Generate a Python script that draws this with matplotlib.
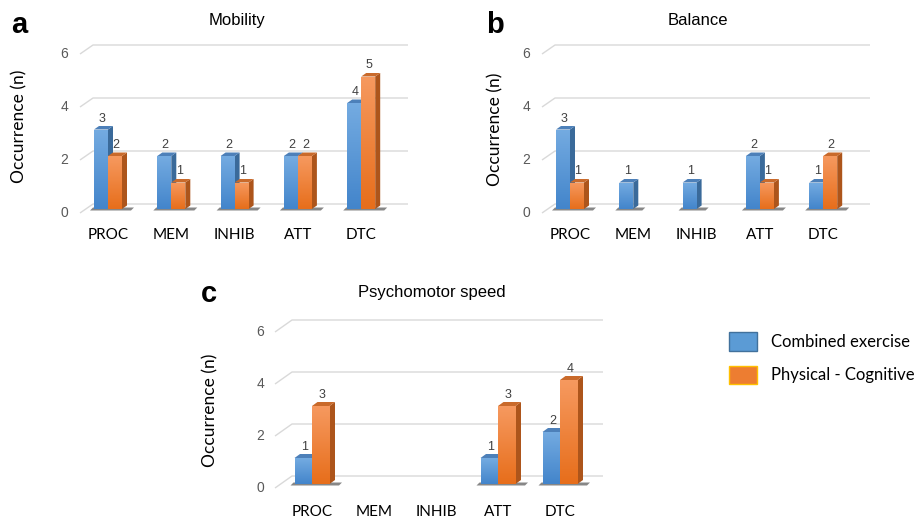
import numpy as np
import matplotlib
matplotlib.use('Agg')
import matplotlib.pyplot as plt
from matplotlib.patches import Polygon, Rectangle
from matplotlib.colors import LinearSegmentedColormap

# ---------------- data ----------------
categories = ['PROC', 'MEM', 'INHIB', 'ATT', 'DTC']
y_ticks = [0, 2, 4, 6]
series_names = ['Combined exercise', 'Physical - Cognitive']
mobility_combined = [3, 2, 2, 2, 4]
mobility_physcog = [2, 1, 1, 2, 5]
balance_combined = [3, 1, 1, 2, 1]
balance_physcog = [1, 0, 0, 1, 2]
psycho_combined = [1, 0, 0, 1, 2]
psycho_physcog = [3, 0, 0, 3, 4]
titles = ['Mobility', 'Balance', 'Psychomotor speed']
panel_letters = ['a', 'b', 'c']
y_label = 'Occurrence (n)'

W, H = 921, 522
fig = plt.figure(figsize=(W / 100, H / 100), dpi=100)
fig.patch.set_facecolor('white')

SANS = ['Liberation Sans', 'DejaVu Sans']
CAL = ['Lato', 'DejaVu Sans']

STYLES = [
    dict(top='#74abe1', bot='#4385cb', side='#3a6a9a', cap='#4d80b9'),
    dict(top='#f6995f', bot='#e76e1b', side='#ad551b', cap='#c96a2b'),
]


def px2fig(x, y):
    return x / W, 1 - y / H


def draw_panel(g, s1, s2, title, letter):
    left, top, right, bottom = g['box']
    ax = fig.add_axes([left / W, 1 - bottom / H, (right - left) / W, (bottom - top) / H])
    sp, un, base, cx0 = g['spacing'], g['unit'], g['base'], g['cx0']
    xlim = ((left - cx0) / sp, (right - cx0) / sp)
    ylim = ((base - bottom) / un, (base - top) / un)
    ax.axis('off')
    ux = lambda p: p / sp   # pixel -> data x
    uy = lambda p: p / un   # pixel -> data y (up)

    # gridlines (3D back wall)
    xf, xb, xr = [(v - cx0) / sp for v in (g['gfx'], g['gbx'], g['grx'])]
    for t in y_ticks:
        yf = t - uy(g['gf'])
        yb = t + uy(g['gb'])
        ax.plot([xf, xb, xr], [yf, yb, yb], color='#d9d9d9', lw=1.0, zorder=1,
                solid_capstyle='butt')
        ax.text(ux(g['tickx'] - cx0), yf, str(t), ha='right', va='center',
                fontsize=10, color='#595959', family=SANS)

    bw = ux(g['bw'])
    dx, dy = ux(g['depth'][0]), uy(g['depth'][1])
    x = np.arange(len(categories))

    def add_shadow(sx0, sx1):
        shadow = Polygon([(sx0, -uy(1.5)), (sx1 - ux(3), -uy(1.5)),
                          (sx1, uy(1.5)), (sx0 + ux(3), uy(1.5))],
                         closed=True, facecolor='#555555', edgecolor='none',
                         alpha=0.7, zorder=2)
        ax.add_patch(shadow)

    # floor shadows under each group
    for xi in x:
        has1, has2 = s1[xi] > 0, s2[xi] > 0
        if not (has1 or has2):
            continue
        gx0 = xi - bw if has1 else xi
        gx1 = (xi + bw if has2 else xi) + dx
        add_shadow(gx0 - ux(4), gx1 + ux(7))

    for si, vals in enumerate((s1, s2)):
        st = STYLES[si]
        cmap = LinearSegmentedColormap.from_list('g', [st['top'], st['bot']])
        for xi, v in zip(x, vals):
            if v <= 0:
                continue
            x0 = xi - bw + si * bw
            x1 = x0 + bw
            z = 3 + si
            side = Polygon([(x1, 0), (x1 + dx, dy), (x1 + dx, v + dy), (x1, v)],
                           closed=True, facecolor=st['side'], edgecolor='none', zorder=z)
            capf = Polygon([(x0, v), (x0 + dx, v + dy), (x1 + dx, v + dy), (x1, v)],
                           closed=True, facecolor=st['cap'], edgecolor='none', zorder=z)
            ax.add_patch(side)
            ax.add_patch(capf)
            bars = ax.bar([x0], [v], width=bw, align='edge', color=st['bot'],
                          edgecolor='none', zorder=z)
            rect = bars.patches[0]
            grad = np.linspace(0, 1, 64).reshape(-1, 1)
            im = ax.imshow(grad, cmap=cmap, extent=[x0, x1, 0, v], origin='upper',
                           aspect='auto', zorder=z + 0.1, interpolation='bilinear')
            im.set_clip_path(rect)
            ax.text((x0 + x1) / 2 + dx * 0.2, v + dy + uy(1.5), str(v), ha='center',
                    va='bottom', fontsize=9, color='#404040', family=SANS, zorder=6)

    for xi, c in zip(x, categories):
        ax.text(xi, (base - g['xly']) / un, c, ha='center', va='center',
                fontsize=11, color='black', family=CAL)

    ax.set_xlim(xlim)
    ax.set_ylim(ylim)

    # titles, panel letters, y labels in figure pixel coordinates
    fig.text(*px2fig(*g['title']), title, ha='center', va='baseline',
             fontsize=12, family=SANS)
    fig.text(*px2fig(*g['letter']), letter, ha='left', va='baseline',
             fontsize=21, fontweight='bold', family=SANS)
    fig.text(*px2fig(*g['ylab']), y_label, ha='center', va='center', rotation=90,
             fontsize=12.5, family=CAL)


geoms = [
    dict(box=(60, 30, 430, 250), cx0=108, spacing=63.3, base=209, unit=26.5, bw=14,
         depth=(5, 3.5), gfx=80, gbx=93, grx=408, gf=4, gb=5, tickx=68, xly=235,
         title=(237, 25), letter=(11, 33), ylab=(19, 126)),
    dict(box=(522, 30, 892, 250), cx0=570, spacing=63.3, base=209, unit=26.5, bw=14,
         depth=(5, 3.5), gfx=542, gbx=555, grx=870, gf=4, gb=5, tickx=530, xly=235,
         title=(698, 25), letter=(486, 33), ylab=(495, 129)),
    dict(box=(240, 300, 630, 522), cx0=312, spacing=62, base=484, unit=26, bw=17.5,
         depth=(5.5, 4), gfx=275, gbx=292, grx=603, gf=4, gb=8, tickx=264, xly=512,
         title=(432, 297), letter=(201, 302), ylab=(210, 410)),
]
series = [(mobility_combined, mobility_physcog), (balance_combined, balance_physcog),
          (psycho_combined, psycho_physcog)]

for g, (s1, s2), t, l in zip(geoms, series, titles, panel_letters):
    draw_panel(g, s1, s2, t, l)

# legend
leg_ax = fig.add_axes([0, 0, 1, 1])
leg_ax.set_xlim(0, W)
leg_ax.set_ylim(H, 0)
leg_ax.axis('off')
leg_ax.add_patch(Rectangle((729, 332), 28, 19, facecolor='#5b9bd5', edgecolor='#41719c', lw=1))
leg_ax.add_patch(Rectangle((729, 366), 28, 18, facecolor='#ed7d31', edgecolor='#ffc000', lw=1))
leg_ax.text(771, 342, series_names[0], ha='left', va='center', fontsize=12, family=CAL)
leg_ax.text(771, 375, series_names[1], ha='left', va='center', fontsize=12, family=CAL)

fig.savefig('out.png', dpi=100, facecolor='white')
